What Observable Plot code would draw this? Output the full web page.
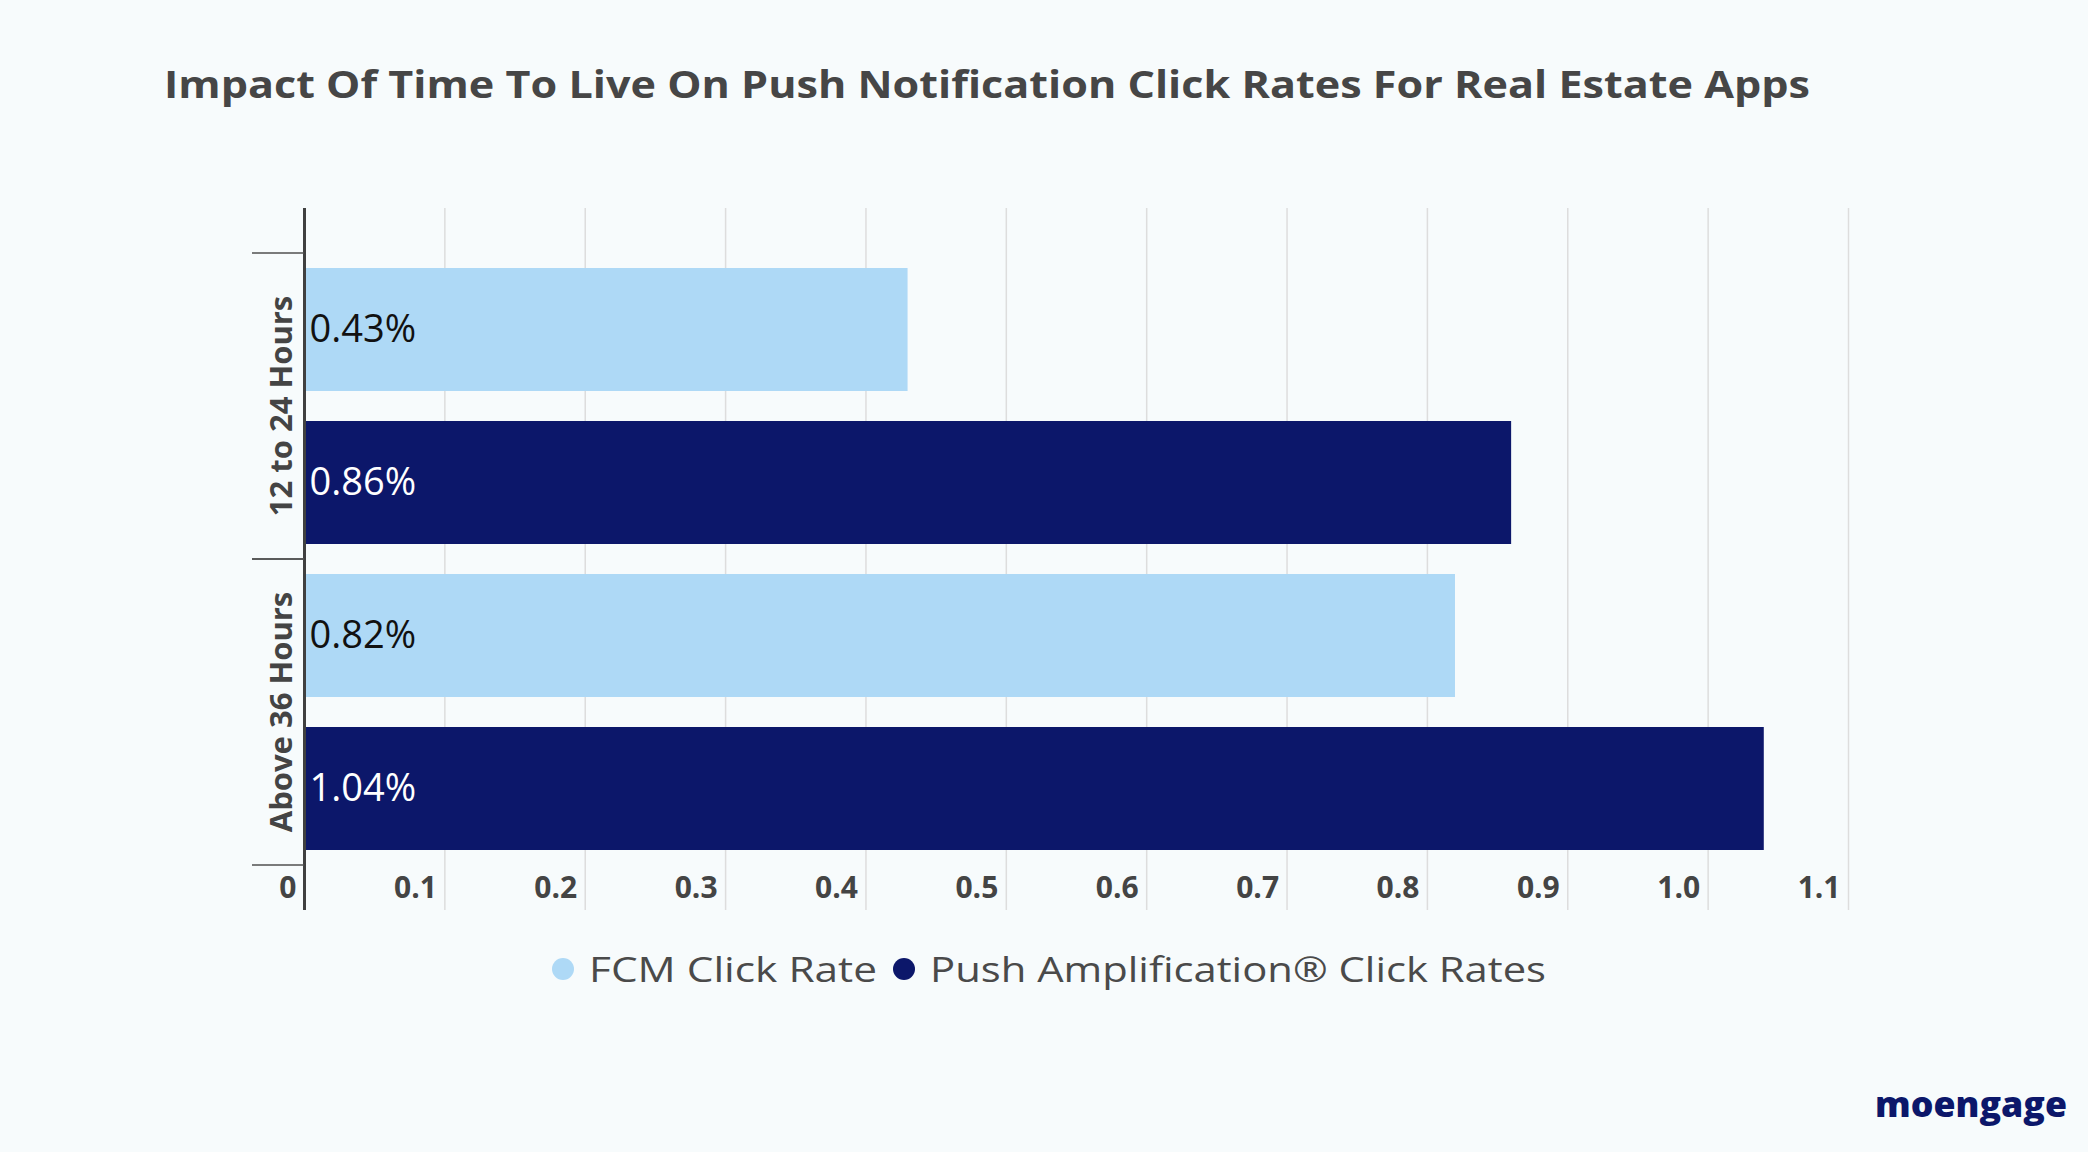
<!DOCTYPE html>
<html>
<head>
<meta charset="utf-8">
<script src="https://cdn.jsdelivr.net/npm/d3@7"></script>
<script src="https://cdn.jsdelivr.net/npm/@observablehq/plot@0.6"></script>
<style>
  html, body { margin: 0; padding: 0; }
  body { background: #f7fbfc; width: 2088px; height: 1152px; overflow: hidden; position: relative; font-family: "Open Sans", sans-serif; }
  #title { position: absolute; left: 164px; top: 64px; font-size: 38px; font-weight: 700; color: #464646; line-height: 38px; white-space: nowrap; transform-origin: left center; }
  #chart { position: absolute; left: 0; top: 150px; }
  #legend { position: absolute; left: 552px; top: 949px; height: 40px; display: flex; align-items: center; font-size: 35px; color: #4a4a4a; white-space: nowrap; line-height: 40px; }
  .item { display: flex; align-items: center; margin-right: 16px; }
  .sw { width: 22px; height: 22px; border-radius: 50%; margin-right: 15px; flex: none; }
  .lt { display: inline-block; white-space: nowrap; transform-origin: left center; }
  #logo { position: absolute; left: 1875px; top: 1086px; font-size: 36px; font-weight: 800; color: #0c176a; line-height: 36px; white-space: nowrap; transform-origin: left center; }
</style>
</head>
<body>
<div id="title">Impact Of Time To Live On Push Notification Click Rates For Real Estate Apps</div>
<div id="chart"></div>
<div id="legend"></div>
<div id="logo">moengage</div>
<script>
const groups = ["12 to 24 Hours", "Above 36 Hours"];
const series = ["FCM Click Rate", "Push Amplification® Click Rates"];
const fcmValues = [0.43, 0.82];
const pushValues = [0.86, 1.04];
const xTicks = [0, 0.1, 0.2, 0.3, 0.4, 0.5, 0.6, 0.7, 0.8, 0.9, 1.0, 1.1];
const xTickLabels = ["0", "0.1", "0.2", "0.3", "0.4", "0.5", "0.6", "0.7", "0.8", "0.9", "1.0", "1.1"];
const colors = ["#aed9f6", "#0c176a"];
const labelColors = ["#111111", "#ffffff"];

const data = groups.flatMap((g, gi) => series.map((s, si) => ({
  group: g, series: s, key: g + "|" + s,
  value: si === 0 ? fcmValues[gi] : pushValues[gi]
})));
const tickLabelMap = new Map(xTicks.map((t, i) => [t, xTickLabels[i]]));

const chart = Plot.plot({
  width: 2088, height: 800,
  marginLeft: 304, marginRight: 240, marginTop: 58, marginBottom: 40,
  x: { domain: [0, 1.1], axis: null, label: null },
  y: { domain: data.map(d => d.key), paddingInner: 0.198, paddingOuter: 0.389, axis: null, label: null },
  color: { domain: series, range: colors },
  style: { background: "transparent", fontFamily: "Open Sans", overflow: "visible" },
  marks: [
    Plot.gridX(xTicks.filter(d => d > 0), { stroke: "#dddddd", strokeOpacity: 1, strokeWidth: 1.5 }),
    Plot.barX(data, { x: "value", y: "key", fill: "series" }),
    ...series.map((s, si) => Plot.text(data.filter(d => d.series === s), {
      x: 0, y: "key", text: d => d.value.toFixed(2) + "%",
      textAnchor: "start", dx: 5, fill: labelColors[si], fontSize: 38, fontWeight: 400
    })),
    Plot.axisX(xTicks, {
      anchor: "bottom", tickSize: 0, tickPadding: 0, dy: -34, dx: -8, textAnchor: "end",
      fontSize: 30, fontWeight: 700, color: "#444444", label: null,
      tickFormat: d => tickLabelMap.get(d)
    }),
    Plot.ruleX([0], { stroke: "#404040", strokeWidth: 3 })
  ]
});
document.getElementById("chart").appendChild(chart);

// group ticks and labels, placed through the y band scale
const ys = chart.scale("y");
const xs = chart.scale("x");
const x0 = xs.apply(0);
const step = ys.step ?? (ys.apply(data[1].key) - ys.apply(data[0].key));
const bw = ys.bandwidth;
const gap = step - bw;
const svg = d3.select(chart);
const gEl = svg.append("g");
groups.forEach((g, gi) => {
  const top = ys.apply(g + "|" + series[0]) - gap / 2;
  const bot = ys.apply(g + "|" + series[series.length - 1]) + bw + gap / 2;
  [top, bot].forEach(yy => {
    gEl.append("line").attr("x1", x0 - 52).attr("x2", x0).attr("y1", yy).attr("y2", yy)
      .attr("stroke", "#505050").attr("stroke-width", 1.5);
  });
  const mid = (top + bot) / 2;
  gEl.append("text").attr("transform", `translate(${x0 - 24},${mid}) rotate(-90)`)
    .attr("text-anchor", "middle").attr("dominant-baseline", "central")
    .attr("font-family", "Open Sans").attr("font-size", 31).attr("font-weight", 700)
    .attr("fill", "#444444").text(g);
});

// legend
const legend = document.getElementById("legend");
series.forEach((s, si) => {
  const item = document.createElement("div");
  item.className = "item";
  const sw = document.createElement("div");
  sw.className = "sw"; sw.style.background = colors[si];
  const t = document.createElement("span");
  t.textContent = s; t.className = "lt";
  item.appendChild(sw); item.appendChild(t);
  legend.appendChild(item);
});

function fit(el, target) {
  const cs = getComputedStyle(el);
  const ctx = document.createElement("canvas").getContext("2d");
  ctx.font = `${cs.fontWeight} ${cs.fontSize} ${cs.fontFamily}`;
  const w = ctx.measureText(el.textContent).width;
  el.style.width = target + "px";
  el.style.transform = `scaleX(${target / w})`;
}
fit(document.getElementById("title"), 1646);
const lts = document.querySelectorAll(".lt");
fit(lts[0], 288);
fit(lts[1], 616);
fit(document.getElementById("logo"), 192);
</script>
</body>
</html>
